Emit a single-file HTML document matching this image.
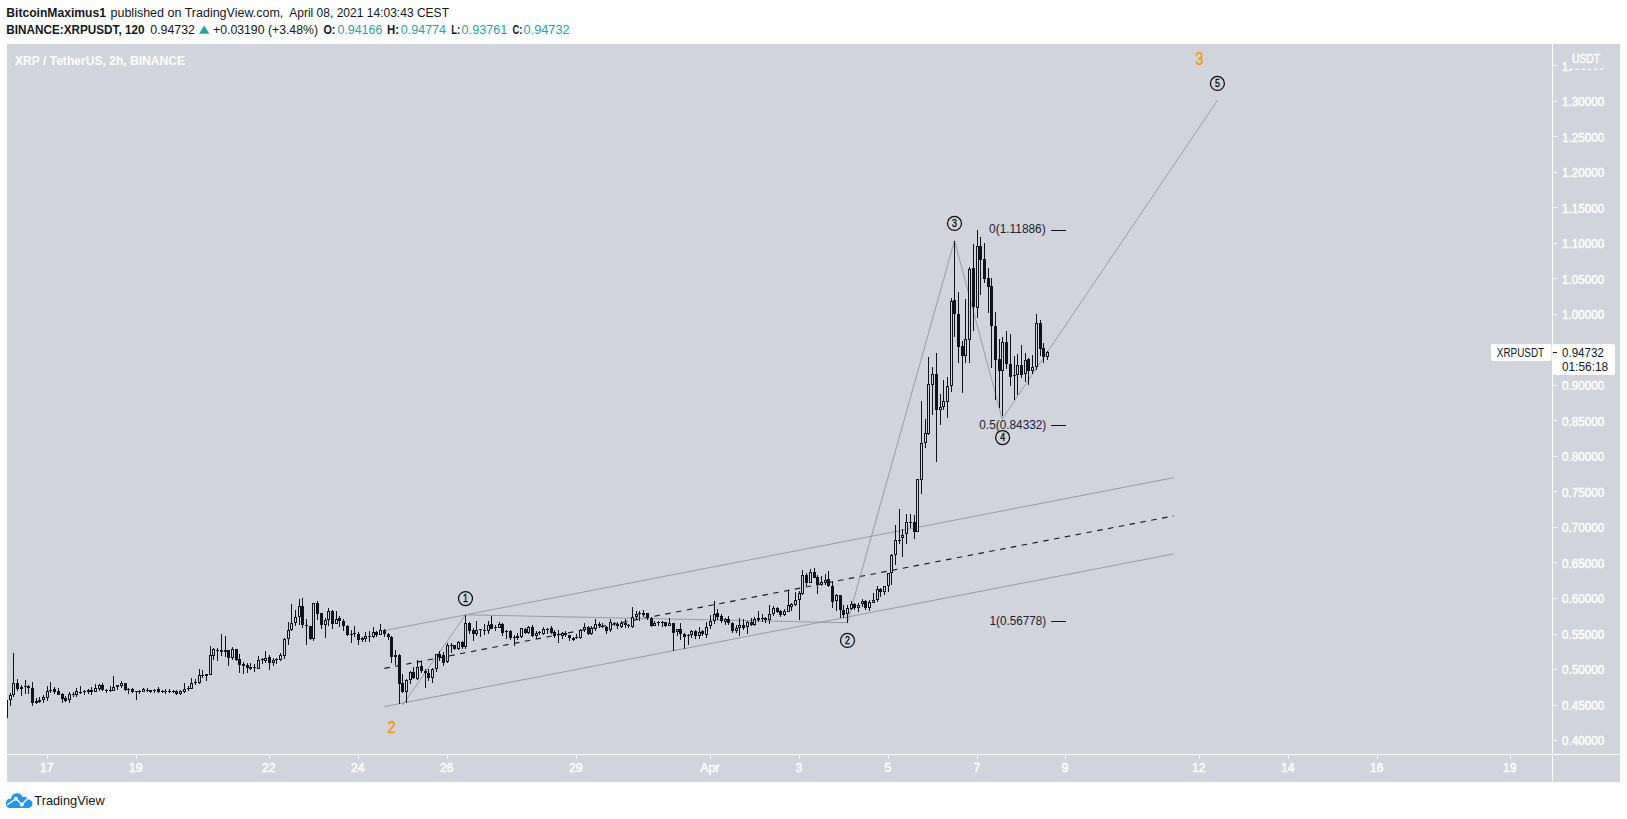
<!DOCTYPE html>
<html><head><meta charset="utf-8"><title>XRPUSDT chart</title>
<style>
html,body{margin:0;padding:0;background:#fff;}
body{width:1627px;height:819px;overflow:hidden;}
svg{display:block;font-family:"Liberation Sans", Arial, sans-serif;}
.ax{fill:#fff;font-size:12.2px;stroke:#fff;stroke-width:0.45px;}
.hd{fill:#131722;font-size:12.5px;}
.b{font-weight:bold;}
.tl{fill:#26a69a;}
.fib{fill:#1c2030;font-size:12px;}
.wv{fill:#0b0d13;font-size:10.5px;stroke:#0b0d13;stroke-width:0.35px;text-anchor:middle;}
</style></head><body>
<svg width="1627" height="819" viewBox="0 0 1627 819">
<rect x="0" y="0" width="1627" height="819" fill="#fff"/>
<rect x="7" y="44" width="1613" height="738" fill="#d1d4dc"/>

<text class="hd b" x="6.3" y="17" textLength="99.7" lengthAdjust="spacingAndGlyphs">BitcoinMaximus1</text>
<text class="hd" x="110.5" y="17" textLength="172.8" lengthAdjust="spacingAndGlyphs">published on TradingView.com,</text>
<text class="hd" x="289.2" y="17" textLength="159.8" lengthAdjust="spacingAndGlyphs">April 08, 2021 14:03:43 CEST</text>
<text class="hd b" x="6.3" y="34" textLength="138.2" lengthAdjust="spacingAndGlyphs">BINANCE:XRPUSDT, 120</text>
<text class="hd" x="150.3" y="34" textLength="44.7" lengthAdjust="spacingAndGlyphs">0.94732</text>
<path d="M199 33.7 L204.2 25.6 L209.4 33.7 Z" fill="#26a69a"/>
<text class="hd" x="213" y="34" textLength="105" lengthAdjust="spacingAndGlyphs">+0.03190 (+3.48%)</text>
<text class="hd b" x="323.4" y="34" textLength="12" lengthAdjust="spacingAndGlyphs">O:</text>
<text class="hd tl" x="337.4" y="34" textLength="45" lengthAdjust="spacingAndGlyphs">0.94166</text>
<text class="hd b" x="387" y="34" textLength="12" lengthAdjust="spacingAndGlyphs">H:</text>
<text class="hd tl" x="400.8" y="34" textLength="45.2" lengthAdjust="spacingAndGlyphs">0.94774</text>
<text class="hd b" x="451.3" y="34" textLength="9" lengthAdjust="spacingAndGlyphs">L:</text>
<text class="hd tl" x="461.6" y="34" textLength="45.8" lengthAdjust="spacingAndGlyphs">0.93761</text>
<text class="hd b" x="512.5" y="34" textLength="10" lengthAdjust="spacingAndGlyphs">C:</text>
<text class="hd tl" x="523.6" y="34" textLength="46" lengthAdjust="spacingAndGlyphs">0.94732</text>
<text x="15" y="65" fill="#fff" font-size="12.5" font-weight="bold" textLength="170" lengthAdjust="spacingAndGlyphs">XRP / TetherUS, 2h, BINANCE</text>
<rect x="1552" y="44" width="1" height="738" fill="#fff"/>
<rect x="7" y="754" width="1613" height="1" fill="#fff"/>
<rect x="1553" y="740" width="4" height="1" fill="#fff"/>
<text class="ax" x="1562" y="745.0" textLength="42.2" lengthAdjust="spacingAndGlyphs">0.40000</text>
<rect x="1553" y="705" width="4" height="1" fill="#fff"/>
<text class="ax" x="1562" y="709.5" textLength="42.2" lengthAdjust="spacingAndGlyphs">0.45000</text>
<rect x="1553" y="669" width="4" height="1" fill="#fff"/>
<text class="ax" x="1562" y="674.0" textLength="42.2" lengthAdjust="spacingAndGlyphs">0.50000</text>
<rect x="1553" y="634" width="4" height="1" fill="#fff"/>
<text class="ax" x="1562" y="638.5" textLength="42.2" lengthAdjust="spacingAndGlyphs">0.55000</text>
<rect x="1553" y="598" width="4" height="1" fill="#fff"/>
<text class="ax" x="1562" y="603.0" textLength="42.2" lengthAdjust="spacingAndGlyphs">0.60000</text>
<rect x="1553" y="562" width="4" height="1" fill="#fff"/>
<text class="ax" x="1562" y="567.5" textLength="42.2" lengthAdjust="spacingAndGlyphs">0.65000</text>
<rect x="1553" y="527" width="4" height="1" fill="#fff"/>
<text class="ax" x="1562" y="532.0" textLength="42.2" lengthAdjust="spacingAndGlyphs">0.70000</text>
<rect x="1553" y="491" width="4" height="1" fill="#fff"/>
<text class="ax" x="1562" y="496.5" textLength="42.2" lengthAdjust="spacingAndGlyphs">0.75000</text>
<rect x="1553" y="456" width="4" height="1" fill="#fff"/>
<text class="ax" x="1562" y="461.0" textLength="42.2" lengthAdjust="spacingAndGlyphs">0.80000</text>
<rect x="1553" y="420" width="4" height="1" fill="#fff"/>
<text class="ax" x="1562" y="425.5" textLength="42.2" lengthAdjust="spacingAndGlyphs">0.85000</text>
<rect x="1553" y="385" width="4" height="1" fill="#fff"/>
<text class="ax" x="1562" y="390.0" textLength="42.2" lengthAdjust="spacingAndGlyphs">0.90000</text>
<rect x="1553" y="349" width="4" height="1" fill="#fff"/>
<text class="ax" x="1562" y="354.5" textLength="42.2" lengthAdjust="spacingAndGlyphs">0.95000</text>
<rect x="1553" y="314" width="4" height="1" fill="#fff"/>
<text class="ax" x="1562" y="319.0" textLength="42.2" lengthAdjust="spacingAndGlyphs">1.00000</text>
<rect x="1553" y="278" width="4" height="1" fill="#fff"/>
<text class="ax" x="1562" y="283.5" textLength="42.2" lengthAdjust="spacingAndGlyphs">1.05000</text>
<rect x="1553" y="243" width="4" height="1" fill="#fff"/>
<text class="ax" x="1562" y="248.0" textLength="42.2" lengthAdjust="spacingAndGlyphs">1.10000</text>
<rect x="1553" y="207" width="4" height="1" fill="#fff"/>
<text class="ax" x="1562" y="212.5" textLength="42.2" lengthAdjust="spacingAndGlyphs">1.15000</text>
<rect x="1553" y="172" width="4" height="1" fill="#fff"/>
<text class="ax" x="1562" y="177.0" textLength="42.2" lengthAdjust="spacingAndGlyphs">1.20000</text>
<rect x="1553" y="136" width="4" height="1" fill="#fff"/>
<text class="ax" x="1562" y="141.5" textLength="42.2" lengthAdjust="spacingAndGlyphs">1.25000</text>
<rect x="1553" y="101" width="4" height="1" fill="#fff"/>
<text class="ax" x="1562" y="106.0" textLength="42.2" lengthAdjust="spacingAndGlyphs">1.30000</text>
<rect x="1553" y="65" width="4" height="1" fill="#fff"/>
<text class="ax" x="1562" y="70.5" textLength="9" lengthAdjust="spacingAndGlyphs">1.</text>
<rect x="1568" y="50" width="37" height="19" rx="3" fill="#d1d4dc"/>
<path d="M1569 69.4 h30.5 q4.5 0 5 -4.4" fill="none" stroke="#fff" stroke-width="1.2" stroke-dasharray="3.8 2.4"/>
<text class="ax" x="1572" y="63.1" style="font-size:12.5px" textLength="28" lengthAdjust="spacingAndGlyphs">USDT</text>
<rect x="47" y="755" width="1" height="4" fill="#fff"/>
<text class="ax" x="46.8" y="771.9" text-anchor="middle">17</text>
<rect x="136" y="755" width="1" height="4" fill="#fff"/>
<text class="ax" x="135.8" y="771.9" text-anchor="middle">19</text>
<rect x="269" y="755" width="1" height="4" fill="#fff"/>
<text class="ax" x="268.8" y="771.9" text-anchor="middle">22</text>
<rect x="358" y="755" width="1" height="4" fill="#fff"/>
<text class="ax" x="357.8" y="771.9" text-anchor="middle">24</text>
<rect x="447" y="755" width="1" height="4" fill="#fff"/>
<text class="ax" x="446.8" y="771.9" text-anchor="middle">26</text>
<rect x="576" y="755" width="1" height="4" fill="#fff"/>
<text class="ax" x="575.8" y="771.9" text-anchor="middle">29</text>
<rect x="710" y="755" width="1" height="4" fill="#fff"/>
<text class="ax" x="709.8" y="771.9" text-anchor="middle">Apr</text>
<rect x="799" y="755" width="1" height="4" fill="#fff"/>
<text class="ax" x="798.8" y="771.9" text-anchor="middle">3</text>
<rect x="888" y="755" width="1" height="4" fill="#fff"/>
<text class="ax" x="887.8" y="771.9" text-anchor="middle">5</text>
<rect x="977" y="755" width="1" height="4" fill="#fff"/>
<text class="ax" x="976.8" y="771.9" text-anchor="middle">7</text>
<rect x="1065" y="755" width="1" height="4" fill="#fff"/>
<text class="ax" x="1064.8" y="771.9" text-anchor="middle">9</text>
<rect x="1199" y="755" width="1" height="4" fill="#fff"/>
<text class="ax" x="1198.8" y="771.9" text-anchor="middle">12</text>
<rect x="1288" y="755" width="1" height="4" fill="#fff"/>
<text class="ax" x="1287.8" y="771.9" text-anchor="middle">14</text>
<rect x="1377" y="755" width="1" height="4" fill="#fff"/>
<text class="ax" x="1376.8" y="771.9" text-anchor="middle">16</text>
<rect x="1510" y="755" width="1" height="4" fill="#fff"/>
<text class="ax" x="1509.8" y="771.9" text-anchor="middle">19</text>
<polyline points="7,669 402.6,705 1199.3,79.3 1552,98.8" fill="none" stroke="#d6d5da" stroke-width="1"/>
<line x1="384.4" y1="630.6" x2="1173.7" y2="477.7" stroke="#989ba4" stroke-width="1"/>
<line x1="384.4" y1="706.6" x2="1173.7" y2="553.9" stroke="#989ba4" stroke-width="1"/>
<line x1="384.4" y1="668.4" x2="1173.7" y2="515.9" stroke="#1a1c24" stroke-width="1.15" stroke-dasharray="5.5 5.5"/>
<polyline points="402.6,705 465.5,614.8 847.2,622.7 954.5,240.6 1002.2,419 1217.6,100.2" fill="none" stroke="#989ba4" stroke-width="1"/>
<g shape-rendering="crispEdges">
<rect x="7" y="700" width="1" height="18" fill="#10131c"/>
<rect x="10" y="693" width="1" height="13" fill="#10131c"/>
<rect x="9" y="695" width="3" height="5" fill="#10131c"/>
<rect x="10" y="696" width="1" height="3" fill="#d1d4dc"/>
<rect x="13" y="653" width="1" height="44" fill="#10131c"/>
<rect x="12" y="683" width="3" height="12" fill="#10131c"/>
<rect x="13" y="684" width="1" height="10" fill="#d1d4dc"/>
<rect x="17" y="679" width="1" height="12" fill="#10131c"/>
<rect x="16" y="683" width="3" height="6" fill="#10131c"/>
<rect x="21" y="685" width="1" height="11" fill="#10131c"/>
<rect x="20" y="687" width="3" height="2" fill="#10131c"/>
<rect x="25" y="680" width="1" height="14" fill="#10131c"/>
<rect x="24" y="686" width="3" height="1" fill="#10131c"/>
<rect x="28" y="685" width="1" height="9" fill="#10131c"/>
<rect x="27" y="686" width="3" height="2" fill="#10131c"/>
<rect x="32" y="682" width="1" height="24" fill="#10131c"/>
<rect x="31" y="688" width="3" height="15" fill="#10131c"/>
<rect x="36" y="698" width="1" height="6" fill="#10131c"/>
<rect x="35" y="701" width="3" height="2" fill="#10131c"/>
<rect x="39" y="697" width="1" height="6" fill="#10131c"/>
<rect x="38" y="700" width="3" height="2" fill="#10131c"/>
<rect x="43" y="695" width="1" height="8" fill="#10131c"/>
<rect x="42" y="697" width="3" height="3" fill="#10131c"/>
<rect x="43" y="698" width="1" height="1" fill="#d1d4dc"/>
<rect x="47" y="686" width="1" height="15" fill="#10131c"/>
<rect x="46" y="691" width="3" height="7" fill="#10131c"/>
<rect x="47" y="692" width="1" height="5" fill="#d1d4dc"/>
<rect x="50" y="682" width="1" height="11" fill="#10131c"/>
<rect x="49" y="690" width="3" height="1" fill="#10131c"/>
<rect x="54" y="687" width="1" height="7" fill="#10131c"/>
<rect x="53" y="689" width="3" height="3" fill="#10131c"/>
<rect x="58" y="688" width="1" height="7" fill="#10131c"/>
<rect x="57" y="691" width="3" height="4" fill="#10131c"/>
<rect x="62" y="693" width="1" height="10" fill="#10131c"/>
<rect x="61" y="694" width="3" height="5" fill="#10131c"/>
<rect x="65" y="696" width="1" height="6" fill="#10131c"/>
<rect x="64" y="698" width="3" height="3" fill="#10131c"/>
<rect x="69" y="692" width="1" height="11" fill="#10131c"/>
<rect x="68" y="694" width="3" height="6" fill="#10131c"/>
<rect x="69" y="695" width="1" height="4" fill="#d1d4dc"/>
<rect x="73" y="692" width="1" height="5" fill="#10131c"/>
<rect x="72" y="694" width="3" height="1" fill="#10131c"/>
<rect x="76" y="688" width="1" height="9" fill="#10131c"/>
<rect x="75" y="691" width="3" height="4" fill="#10131c"/>
<rect x="76" y="692" width="1" height="2" fill="#d1d4dc"/>
<rect x="80" y="686" width="1" height="8" fill="#10131c"/>
<rect x="79" y="692" width="3" height="1" fill="#10131c"/>
<rect x="84" y="690" width="1" height="5" fill="#10131c"/>
<rect x="83" y="691" width="3" height="1" fill="#10131c"/>
<rect x="88" y="689" width="1" height="5" fill="#10131c"/>
<rect x="87" y="690" width="3" height="2" fill="#10131c"/>
<rect x="91" y="687" width="1" height="8" fill="#10131c"/>
<rect x="90" y="690" width="3" height="2" fill="#10131c"/>
<rect x="95" y="684" width="1" height="8" fill="#10131c"/>
<rect x="94" y="688" width="3" height="4" fill="#10131c"/>
<rect x="95" y="689" width="1" height="2" fill="#d1d4dc"/>
<rect x="99" y="684" width="1" height="7" fill="#10131c"/>
<rect x="98" y="685" width="3" height="4" fill="#10131c"/>
<rect x="99" y="686" width="1" height="2" fill="#d1d4dc"/>
<rect x="102" y="683" width="1" height="8" fill="#10131c"/>
<rect x="101" y="685" width="3" height="5" fill="#10131c"/>
<rect x="106" y="689" width="1" height="4" fill="#10131c"/>
<rect x="105" y="690" width="3" height="1" fill="#10131c"/>
<rect x="110" y="686" width="1" height="6" fill="#10131c"/>
<rect x="109" y="690" width="3" height="1" fill="#10131c"/>
<rect x="113" y="676" width="1" height="15" fill="#10131c"/>
<rect x="112" y="687" width="3" height="4" fill="#10131c"/>
<rect x="113" y="688" width="1" height="2" fill="#d1d4dc"/>
<rect x="117" y="685" width="1" height="5" fill="#10131c"/>
<rect x="116" y="685" width="3" height="2" fill="#10131c"/>
<rect x="121" y="681" width="1" height="7" fill="#10131c"/>
<rect x="120" y="683" width="3" height="3" fill="#10131c"/>
<rect x="121" y="684" width="1" height="1" fill="#d1d4dc"/>
<rect x="125" y="683" width="1" height="8" fill="#10131c"/>
<rect x="124" y="683" width="3" height="7" fill="#10131c"/>
<rect x="128" y="688" width="1" height="6" fill="#10131c"/>
<rect x="127" y="689" width="3" height="1" fill="#10131c"/>
<rect x="132" y="688" width="1" height="5" fill="#10131c"/>
<rect x="131" y="689" width="3" height="3" fill="#10131c"/>
<rect x="136" y="691" width="1" height="9" fill="#10131c"/>
<rect x="135" y="691" width="3" height="1" fill="#10131c"/>
<rect x="139" y="690" width="1" height="4" fill="#10131c"/>
<rect x="138" y="691" width="3" height="1" fill="#10131c"/>
<rect x="143" y="688" width="1" height="4" fill="#10131c"/>
<rect x="142" y="689" width="3" height="3" fill="#10131c"/>
<rect x="143" y="690" width="1" height="1" fill="#d1d4dc"/>
<rect x="147" y="688" width="1" height="4" fill="#10131c"/>
<rect x="146" y="690" width="3" height="1" fill="#10131c"/>
<rect x="150" y="690" width="1" height="3" fill="#10131c"/>
<rect x="149" y="690" width="3" height="2" fill="#10131c"/>
<rect x="154" y="689" width="1" height="4" fill="#10131c"/>
<rect x="153" y="690" width="3" height="1" fill="#10131c"/>
<rect x="158" y="687" width="1" height="6" fill="#10131c"/>
<rect x="157" y="689" width="3" height="3" fill="#10131c"/>
<rect x="162" y="690" width="1" height="3" fill="#10131c"/>
<rect x="161" y="691" width="3" height="1" fill="#10131c"/>
<rect x="165" y="689" width="1" height="5" fill="#10131c"/>
<rect x="164" y="691" width="3" height="1" fill="#10131c"/>
<rect x="169" y="689" width="1" height="4" fill="#10131c"/>
<rect x="168" y="691" width="3" height="1" fill="#10131c"/>
<rect x="173" y="690" width="1" height="3" fill="#10131c"/>
<rect x="172" y="691" width="3" height="1" fill="#10131c"/>
<rect x="176" y="690" width="1" height="5" fill="#10131c"/>
<rect x="175" y="691" width="3" height="3" fill="#10131c"/>
<rect x="180" y="690" width="1" height="5" fill="#10131c"/>
<rect x="179" y="691" width="3" height="3" fill="#10131c"/>
<rect x="180" y="692" width="1" height="1" fill="#d1d4dc"/>
<rect x="184" y="683" width="1" height="10" fill="#10131c"/>
<rect x="183" y="689" width="3" height="3" fill="#10131c"/>
<rect x="184" y="690" width="1" height="1" fill="#d1d4dc"/>
<rect x="188" y="686" width="1" height="5" fill="#10131c"/>
<rect x="187" y="688" width="3" height="1" fill="#10131c"/>
<rect x="191" y="678" width="1" height="11" fill="#10131c"/>
<rect x="190" y="683" width="3" height="6" fill="#10131c"/>
<rect x="191" y="684" width="1" height="4" fill="#d1d4dc"/>
<rect x="195" y="679" width="1" height="6" fill="#10131c"/>
<rect x="194" y="682" width="3" height="1" fill="#10131c"/>
<rect x="199" y="669" width="1" height="15" fill="#10131c"/>
<rect x="198" y="675" width="3" height="8" fill="#10131c"/>
<rect x="199" y="676" width="1" height="6" fill="#d1d4dc"/>
<rect x="202" y="670" width="1" height="8" fill="#10131c"/>
<rect x="201" y="675" width="3" height="1" fill="#10131c"/>
<rect x="206" y="674" width="1" height="7" fill="#10131c"/>
<rect x="205" y="674" width="3" height="2" fill="#10131c"/>
<rect x="210" y="646" width="1" height="29" fill="#10131c"/>
<rect x="209" y="655" width="3" height="20" fill="#10131c"/>
<rect x="210" y="656" width="1" height="18" fill="#d1d4dc"/>
<rect x="213" y="648" width="1" height="12" fill="#10131c"/>
<rect x="212" y="649" width="3" height="7" fill="#10131c"/>
<rect x="213" y="650" width="1" height="5" fill="#d1d4dc"/>
<rect x="217" y="648" width="1" height="13" fill="#10131c"/>
<rect x="216" y="650" width="3" height="1" fill="#10131c"/>
<rect x="221" y="634" width="1" height="22" fill="#10131c"/>
<rect x="220" y="650" width="3" height="2" fill="#10131c"/>
<rect x="225" y="636" width="1" height="21" fill="#10131c"/>
<rect x="224" y="650" width="3" height="2" fill="#10131c"/>
<rect x="228" y="650" width="1" height="16" fill="#10131c"/>
<rect x="227" y="650" width="3" height="8" fill="#10131c"/>
<rect x="232" y="647" width="1" height="13" fill="#10131c"/>
<rect x="231" y="649" width="3" height="9" fill="#10131c"/>
<rect x="232" y="650" width="1" height="7" fill="#d1d4dc"/>
<rect x="236" y="649" width="1" height="12" fill="#10131c"/>
<rect x="235" y="649" width="3" height="11" fill="#10131c"/>
<rect x="239" y="654" width="1" height="19" fill="#10131c"/>
<rect x="238" y="659" width="3" height="6" fill="#10131c"/>
<rect x="243" y="662" width="1" height="12" fill="#10131c"/>
<rect x="242" y="664" width="3" height="2" fill="#10131c"/>
<rect x="247" y="663" width="1" height="10" fill="#10131c"/>
<rect x="246" y="665" width="3" height="3" fill="#10131c"/>
<rect x="250" y="663" width="1" height="7" fill="#10131c"/>
<rect x="249" y="667" width="3" height="2" fill="#10131c"/>
<rect x="254" y="664" width="1" height="8" fill="#10131c"/>
<rect x="253" y="667" width="3" height="1" fill="#10131c"/>
<rect x="258" y="656" width="1" height="13" fill="#10131c"/>
<rect x="257" y="660" width="3" height="9" fill="#10131c"/>
<rect x="258" y="661" width="1" height="7" fill="#d1d4dc"/>
<rect x="262" y="658" width="1" height="6" fill="#10131c"/>
<rect x="261" y="659" width="3" height="1" fill="#10131c"/>
<rect x="265" y="651" width="1" height="12" fill="#10131c"/>
<rect x="264" y="658" width="3" height="3" fill="#10131c"/>
<rect x="265" y="659" width="1" height="1" fill="#d1d4dc"/>
<rect x="269" y="655" width="1" height="15" fill="#10131c"/>
<rect x="268" y="657" width="3" height="6" fill="#10131c"/>
<rect x="273" y="658" width="1" height="8" fill="#10131c"/>
<rect x="272" y="660" width="3" height="3" fill="#10131c"/>
<rect x="273" y="661" width="1" height="1" fill="#d1d4dc"/>
<rect x="276" y="658" width="1" height="6" fill="#10131c"/>
<rect x="275" y="659" width="3" height="1" fill="#10131c"/>
<rect x="280" y="653" width="1" height="8" fill="#10131c"/>
<rect x="279" y="655" width="3" height="5" fill="#10131c"/>
<rect x="280" y="656" width="1" height="3" fill="#d1d4dc"/>
<rect x="284" y="638" width="1" height="21" fill="#10131c"/>
<rect x="283" y="639" width="3" height="17" fill="#10131c"/>
<rect x="284" y="640" width="1" height="15" fill="#d1d4dc"/>
<rect x="288" y="622" width="1" height="23" fill="#10131c"/>
<rect x="287" y="630" width="3" height="9" fill="#10131c"/>
<rect x="288" y="631" width="1" height="7" fill="#d1d4dc"/>
<rect x="291" y="604" width="1" height="27" fill="#10131c"/>
<rect x="290" y="623" width="3" height="7" fill="#10131c"/>
<rect x="291" y="624" width="1" height="5" fill="#d1d4dc"/>
<rect x="295" y="610" width="1" height="16" fill="#10131c"/>
<rect x="294" y="617" width="3" height="6" fill="#10131c"/>
<rect x="295" y="618" width="1" height="4" fill="#d1d4dc"/>
<rect x="299" y="599" width="1" height="26" fill="#10131c"/>
<rect x="298" y="606" width="3" height="11" fill="#10131c"/>
<rect x="299" y="607" width="1" height="9" fill="#d1d4dc"/>
<rect x="302" y="598" width="1" height="30" fill="#10131c"/>
<rect x="301" y="606" width="3" height="19" fill="#10131c"/>
<rect x="306" y="619" width="1" height="26" fill="#10131c"/>
<rect x="305" y="625" width="3" height="1" fill="#10131c"/>
<rect x="310" y="626" width="1" height="14" fill="#10131c"/>
<rect x="309" y="626" width="3" height="13" fill="#10131c"/>
<rect x="313" y="603" width="1" height="38" fill="#10131c"/>
<rect x="312" y="603" width="3" height="36" fill="#10131c"/>
<rect x="313" y="604" width="1" height="34" fill="#d1d4dc"/>
<rect x="317" y="601" width="1" height="19" fill="#10131c"/>
<rect x="316" y="603" width="3" height="11" fill="#10131c"/>
<rect x="321" y="613" width="1" height="16" fill="#10131c"/>
<rect x="320" y="613" width="3" height="12" fill="#10131c"/>
<rect x="325" y="618" width="1" height="20" fill="#10131c"/>
<rect x="324" y="620" width="3" height="5" fill="#10131c"/>
<rect x="325" y="621" width="1" height="3" fill="#d1d4dc"/>
<rect x="328" y="608" width="1" height="18" fill="#10131c"/>
<rect x="327" y="611" width="3" height="9" fill="#10131c"/>
<rect x="328" y="612" width="1" height="7" fill="#d1d4dc"/>
<rect x="332" y="610" width="1" height="19" fill="#10131c"/>
<rect x="331" y="611" width="3" height="13" fill="#10131c"/>
<rect x="336" y="611" width="1" height="13" fill="#10131c"/>
<rect x="335" y="619" width="3" height="5" fill="#10131c"/>
<rect x="336" y="620" width="1" height="3" fill="#d1d4dc"/>
<rect x="339" y="616" width="1" height="11" fill="#10131c"/>
<rect x="338" y="618" width="3" height="3" fill="#10131c"/>
<rect x="343" y="619" width="1" height="12" fill="#10131c"/>
<rect x="342" y="621" width="3" height="5" fill="#10131c"/>
<rect x="347" y="625" width="1" height="11" fill="#10131c"/>
<rect x="346" y="626" width="3" height="9" fill="#10131c"/>
<rect x="351" y="630" width="1" height="13" fill="#10131c"/>
<rect x="350" y="634" width="3" height="1" fill="#10131c"/>
<rect x="354" y="626" width="1" height="11" fill="#10131c"/>
<rect x="353" y="633" width="3" height="1" fill="#10131c"/>
<rect x="358" y="632" width="1" height="13" fill="#10131c"/>
<rect x="357" y="634" width="3" height="6" fill="#10131c"/>
<rect x="362" y="637" width="1" height="5" fill="#10131c"/>
<rect x="361" y="638" width="3" height="2" fill="#10131c"/>
<rect x="365" y="632" width="1" height="10" fill="#10131c"/>
<rect x="364" y="636" width="3" height="3" fill="#10131c"/>
<rect x="365" y="637" width="1" height="1" fill="#d1d4dc"/>
<rect x="369" y="631" width="1" height="11" fill="#10131c"/>
<rect x="368" y="636" width="3" height="1" fill="#10131c"/>
<rect x="373" y="627" width="1" height="11" fill="#10131c"/>
<rect x="372" y="632" width="3" height="5" fill="#10131c"/>
<rect x="373" y="633" width="1" height="3" fill="#d1d4dc"/>
<rect x="376" y="631" width="1" height="6" fill="#10131c"/>
<rect x="375" y="632" width="3" height="3" fill="#10131c"/>
<rect x="380" y="624" width="1" height="11" fill="#10131c"/>
<rect x="379" y="630" width="3" height="5" fill="#10131c"/>
<rect x="380" y="631" width="1" height="3" fill="#d1d4dc"/>
<rect x="384" y="629" width="1" height="8" fill="#10131c"/>
<rect x="383" y="630" width="3" height="4" fill="#10131c"/>
<rect x="388" y="633" width="1" height="7" fill="#10131c"/>
<rect x="387" y="634" width="3" height="3" fill="#10131c"/>
<rect x="391" y="636" width="1" height="27" fill="#10131c"/>
<rect x="390" y="637" width="3" height="20" fill="#10131c"/>
<rect x="395" y="650" width="1" height="15" fill="#10131c"/>
<rect x="394" y="655" width="3" height="2" fill="#10131c"/>
<rect x="399" y="654" width="1" height="50" fill="#10131c"/>
<rect x="398" y="655" width="3" height="29" fill="#10131c"/>
<rect x="402" y="674" width="1" height="19" fill="#10131c"/>
<rect x="401" y="683" width="3" height="9" fill="#10131c"/>
<rect x="406" y="679" width="1" height="24" fill="#10131c"/>
<rect x="405" y="680" width="3" height="12" fill="#10131c"/>
<rect x="406" y="681" width="1" height="10" fill="#d1d4dc"/>
<rect x="410" y="671" width="1" height="13" fill="#10131c"/>
<rect x="409" y="672" width="3" height="8" fill="#10131c"/>
<rect x="410" y="673" width="1" height="6" fill="#d1d4dc"/>
<rect x="413" y="667" width="1" height="12" fill="#10131c"/>
<rect x="412" y="672" width="3" height="6" fill="#10131c"/>
<rect x="417" y="660" width="1" height="20" fill="#10131c"/>
<rect x="416" y="667" width="3" height="12" fill="#10131c"/>
<rect x="417" y="668" width="1" height="10" fill="#d1d4dc"/>
<rect x="421" y="661" width="1" height="12" fill="#10131c"/>
<rect x="420" y="666" width="3" height="5" fill="#10131c"/>
<rect x="425" y="669" width="1" height="19" fill="#10131c"/>
<rect x="424" y="671" width="3" height="2" fill="#10131c"/>
<rect x="428" y="669" width="1" height="12" fill="#10131c"/>
<rect x="427" y="673" width="3" height="5" fill="#10131c"/>
<rect x="432" y="668" width="1" height="15" fill="#10131c"/>
<rect x="431" y="669" width="3" height="9" fill="#10131c"/>
<rect x="432" y="670" width="1" height="7" fill="#d1d4dc"/>
<rect x="436" y="654" width="1" height="18" fill="#10131c"/>
<rect x="435" y="654" width="3" height="15" fill="#10131c"/>
<rect x="436" y="655" width="1" height="13" fill="#d1d4dc"/>
<rect x="439" y="651" width="1" height="10" fill="#10131c"/>
<rect x="438" y="654" width="3" height="3" fill="#10131c"/>
<rect x="443" y="652" width="1" height="14" fill="#10131c"/>
<rect x="442" y="655" width="3" height="8" fill="#10131c"/>
<rect x="447" y="643" width="1" height="20" fill="#10131c"/>
<rect x="446" y="645" width="3" height="17" fill="#10131c"/>
<rect x="447" y="646" width="1" height="15" fill="#d1d4dc"/>
<rect x="451" y="643" width="1" height="10" fill="#10131c"/>
<rect x="450" y="645" width="3" height="1" fill="#10131c"/>
<rect x="454" y="645" width="1" height="5" fill="#10131c"/>
<rect x="453" y="645" width="3" height="4" fill="#10131c"/>
<rect x="458" y="641" width="1" height="9" fill="#10131c"/>
<rect x="457" y="642" width="3" height="7" fill="#10131c"/>
<rect x="458" y="643" width="1" height="5" fill="#d1d4dc"/>
<rect x="462" y="641" width="1" height="8" fill="#10131c"/>
<rect x="461" y="642" width="3" height="5" fill="#10131c"/>
<rect x="465" y="615" width="1" height="34" fill="#10131c"/>
<rect x="464" y="623" width="3" height="24" fill="#10131c"/>
<rect x="465" y="624" width="1" height="22" fill="#d1d4dc"/>
<rect x="469" y="622" width="1" height="12" fill="#10131c"/>
<rect x="468" y="623" width="3" height="8" fill="#10131c"/>
<rect x="473" y="628" width="1" height="13" fill="#10131c"/>
<rect x="472" y="630" width="3" height="4" fill="#10131c"/>
<rect x="476" y="621" width="1" height="15" fill="#10131c"/>
<rect x="475" y="630" width="3" height="4" fill="#10131c"/>
<rect x="476" y="631" width="1" height="2" fill="#d1d4dc"/>
<rect x="480" y="629" width="1" height="8" fill="#10131c"/>
<rect x="479" y="629" width="3" height="1" fill="#10131c"/>
<rect x="484" y="624" width="1" height="11" fill="#10131c"/>
<rect x="483" y="630" width="3" height="1" fill="#10131c"/>
<rect x="488" y="621" width="1" height="13" fill="#10131c"/>
<rect x="487" y="625" width="3" height="6" fill="#10131c"/>
<rect x="488" y="626" width="1" height="4" fill="#d1d4dc"/>
<rect x="491" y="616" width="1" height="13" fill="#10131c"/>
<rect x="490" y="624" width="3" height="5" fill="#10131c"/>
<rect x="495" y="625" width="1" height="6" fill="#10131c"/>
<rect x="494" y="627" width="3" height="1" fill="#10131c"/>
<rect x="499" y="622" width="1" height="6" fill="#10131c"/>
<rect x="498" y="624" width="3" height="4" fill="#10131c"/>
<rect x="499" y="625" width="1" height="2" fill="#d1d4dc"/>
<rect x="502" y="623" width="1" height="13" fill="#10131c"/>
<rect x="501" y="624" width="3" height="9" fill="#10131c"/>
<rect x="506" y="630" width="1" height="9" fill="#10131c"/>
<rect x="505" y="631" width="3" height="1" fill="#10131c"/>
<rect x="510" y="630" width="1" height="10" fill="#10131c"/>
<rect x="509" y="631" width="3" height="7" fill="#10131c"/>
<rect x="514" y="635" width="1" height="11" fill="#10131c"/>
<rect x="513" y="637" width="3" height="1" fill="#10131c"/>
<rect x="517" y="633" width="1" height="7" fill="#10131c"/>
<rect x="516" y="636" width="3" height="2" fill="#10131c"/>
<rect x="521" y="628" width="1" height="10" fill="#10131c"/>
<rect x="520" y="628" width="3" height="9" fill="#10131c"/>
<rect x="521" y="629" width="1" height="7" fill="#d1d4dc"/>
<rect x="525" y="628" width="1" height="6" fill="#10131c"/>
<rect x="524" y="629" width="3" height="4" fill="#10131c"/>
<rect x="528" y="626" width="1" height="8" fill="#10131c"/>
<rect x="527" y="627" width="3" height="6" fill="#10131c"/>
<rect x="528" y="628" width="1" height="4" fill="#d1d4dc"/>
<rect x="532" y="625" width="1" height="12" fill="#10131c"/>
<rect x="531" y="627" width="3" height="9" fill="#10131c"/>
<rect x="536" y="631" width="1" height="8" fill="#10131c"/>
<rect x="535" y="633" width="3" height="3" fill="#10131c"/>
<rect x="536" y="634" width="1" height="1" fill="#d1d4dc"/>
<rect x="539" y="631" width="1" height="4" fill="#10131c"/>
<rect x="538" y="632" width="3" height="1" fill="#10131c"/>
<rect x="543" y="627" width="1" height="8" fill="#10131c"/>
<rect x="542" y="629" width="3" height="5" fill="#10131c"/>
<rect x="543" y="630" width="1" height="3" fill="#d1d4dc"/>
<rect x="547" y="628" width="1" height="6" fill="#10131c"/>
<rect x="546" y="629" width="3" height="1" fill="#10131c"/>
<rect x="551" y="626" width="1" height="8" fill="#10131c"/>
<rect x="550" y="628" width="3" height="5" fill="#10131c"/>
<rect x="554" y="630" width="1" height="8" fill="#10131c"/>
<rect x="553" y="632" width="3" height="4" fill="#10131c"/>
<rect x="558" y="630" width="1" height="13" fill="#10131c"/>
<rect x="557" y="634" width="3" height="1" fill="#10131c"/>
<rect x="562" y="632" width="1" height="7" fill="#10131c"/>
<rect x="561" y="633" width="3" height="3" fill="#10131c"/>
<rect x="562" y="634" width="1" height="1" fill="#d1d4dc"/>
<rect x="565" y="631" width="1" height="6" fill="#10131c"/>
<rect x="564" y="633" width="3" height="2" fill="#10131c"/>
<rect x="569" y="635" width="1" height="6" fill="#10131c"/>
<rect x="568" y="635" width="3" height="3" fill="#10131c"/>
<rect x="573" y="637" width="1" height="4" fill="#10131c"/>
<rect x="572" y="638" width="3" height="2" fill="#10131c"/>
<rect x="576" y="634" width="1" height="5" fill="#10131c"/>
<rect x="575" y="637" width="3" height="1" fill="#10131c"/>
<rect x="580" y="629" width="1" height="10" fill="#10131c"/>
<rect x="579" y="630" width="3" height="8" fill="#10131c"/>
<rect x="580" y="631" width="1" height="6" fill="#d1d4dc"/>
<rect x="584" y="623" width="1" height="9" fill="#10131c"/>
<rect x="583" y="627" width="3" height="3" fill="#10131c"/>
<rect x="584" y="628" width="1" height="1" fill="#d1d4dc"/>
<rect x="588" y="626" width="1" height="9" fill="#10131c"/>
<rect x="587" y="627" width="3" height="7" fill="#10131c"/>
<rect x="591" y="626" width="1" height="9" fill="#10131c"/>
<rect x="590" y="628" width="3" height="6" fill="#10131c"/>
<rect x="591" y="629" width="1" height="4" fill="#d1d4dc"/>
<rect x="595" y="619" width="1" height="12" fill="#10131c"/>
<rect x="594" y="624" width="3" height="5" fill="#10131c"/>
<rect x="595" y="625" width="1" height="3" fill="#d1d4dc"/>
<rect x="599" y="622" width="1" height="6" fill="#10131c"/>
<rect x="598" y="624" width="3" height="2" fill="#10131c"/>
<rect x="602" y="623" width="1" height="5" fill="#10131c"/>
<rect x="601" y="626" width="3" height="1" fill="#10131c"/>
<rect x="606" y="626" width="1" height="8" fill="#10131c"/>
<rect x="605" y="627" width="3" height="4" fill="#10131c"/>
<rect x="610" y="619" width="1" height="13" fill="#10131c"/>
<rect x="609" y="622" width="3" height="8" fill="#10131c"/>
<rect x="610" y="623" width="1" height="6" fill="#d1d4dc"/>
<rect x="614" y="622" width="1" height="4" fill="#10131c"/>
<rect x="613" y="623" width="3" height="1" fill="#10131c"/>
<rect x="617" y="622" width="1" height="7" fill="#10131c"/>
<rect x="616" y="624" width="3" height="2" fill="#10131c"/>
<rect x="621" y="621" width="1" height="7" fill="#10131c"/>
<rect x="620" y="623" width="3" height="4" fill="#10131c"/>
<rect x="621" y="624" width="1" height="2" fill="#d1d4dc"/>
<rect x="625" y="619" width="1" height="9" fill="#10131c"/>
<rect x="624" y="623" width="3" height="2" fill="#10131c"/>
<rect x="628" y="624" width="1" height="4" fill="#10131c"/>
<rect x="627" y="625" width="3" height="1" fill="#10131c"/>
<rect x="632" y="607" width="1" height="21" fill="#10131c"/>
<rect x="631" y="617" width="3" height="10" fill="#10131c"/>
<rect x="632" y="618" width="1" height="8" fill="#d1d4dc"/>
<rect x="636" y="611" width="1" height="9" fill="#10131c"/>
<rect x="635" y="614" width="3" height="3" fill="#10131c"/>
<rect x="636" y="615" width="1" height="1" fill="#d1d4dc"/>
<rect x="639" y="611" width="1" height="10" fill="#10131c"/>
<rect x="638" y="613" width="3" height="1" fill="#10131c"/>
<rect x="643" y="610" width="1" height="7" fill="#10131c"/>
<rect x="642" y="613" width="3" height="2" fill="#10131c"/>
<rect x="647" y="613" width="1" height="7" fill="#10131c"/>
<rect x="646" y="613" width="3" height="5" fill="#10131c"/>
<rect x="651" y="617" width="1" height="10" fill="#10131c"/>
<rect x="650" y="618" width="3" height="8" fill="#10131c"/>
<rect x="654" y="621" width="1" height="5" fill="#10131c"/>
<rect x="653" y="623" width="3" height="3" fill="#10131c"/>
<rect x="654" y="624" width="1" height="1" fill="#d1d4dc"/>
<rect x="658" y="621" width="1" height="5" fill="#10131c"/>
<rect x="657" y="622" width="3" height="1" fill="#10131c"/>
<rect x="662" y="621" width="1" height="6" fill="#10131c"/>
<rect x="661" y="622" width="3" height="1" fill="#10131c"/>
<rect x="665" y="622" width="1" height="5" fill="#10131c"/>
<rect x="664" y="622" width="3" height="4" fill="#10131c"/>
<rect x="669" y="618" width="1" height="8" fill="#10131c"/>
<rect x="668" y="623" width="3" height="3" fill="#10131c"/>
<rect x="669" y="624" width="1" height="1" fill="#d1d4dc"/>
<rect x="673" y="623" width="1" height="28" fill="#10131c"/>
<rect x="672" y="623" width="3" height="10" fill="#10131c"/>
<rect x="677" y="629" width="1" height="7" fill="#10131c"/>
<rect x="676" y="629" width="3" height="3" fill="#10131c"/>
<rect x="677" y="630" width="1" height="1" fill="#d1d4dc"/>
<rect x="680" y="623" width="1" height="17" fill="#10131c"/>
<rect x="679" y="629" width="3" height="5" fill="#10131c"/>
<rect x="684" y="633" width="1" height="16" fill="#10131c"/>
<rect x="683" y="634" width="3" height="3" fill="#10131c"/>
<rect x="688" y="634" width="1" height="11" fill="#10131c"/>
<rect x="687" y="635" width="3" height="1" fill="#10131c"/>
<rect x="691" y="630" width="1" height="8" fill="#10131c"/>
<rect x="690" y="631" width="3" height="4" fill="#10131c"/>
<rect x="691" y="632" width="1" height="2" fill="#d1d4dc"/>
<rect x="695" y="630" width="1" height="9" fill="#10131c"/>
<rect x="694" y="631" width="3" height="5" fill="#10131c"/>
<rect x="699" y="627" width="1" height="12" fill="#10131c"/>
<rect x="698" y="632" width="3" height="4" fill="#10131c"/>
<rect x="699" y="633" width="1" height="2" fill="#d1d4dc"/>
<rect x="702" y="630" width="1" height="6" fill="#10131c"/>
<rect x="701" y="631" width="3" height="3" fill="#10131c"/>
<rect x="706" y="622" width="1" height="16" fill="#10131c"/>
<rect x="705" y="627" width="3" height="8" fill="#10131c"/>
<rect x="706" y="628" width="1" height="6" fill="#d1d4dc"/>
<rect x="710" y="615" width="1" height="14" fill="#10131c"/>
<rect x="709" y="621" width="3" height="5" fill="#10131c"/>
<rect x="710" y="622" width="1" height="3" fill="#d1d4dc"/>
<rect x="714" y="601" width="1" height="23" fill="#10131c"/>
<rect x="713" y="614" width="3" height="7" fill="#10131c"/>
<rect x="714" y="615" width="1" height="5" fill="#d1d4dc"/>
<rect x="717" y="609" width="1" height="11" fill="#10131c"/>
<rect x="716" y="613" width="3" height="4" fill="#10131c"/>
<rect x="721" y="614" width="1" height="9" fill="#10131c"/>
<rect x="720" y="616" width="3" height="5" fill="#10131c"/>
<rect x="725" y="618" width="1" height="7" fill="#10131c"/>
<rect x="724" y="619" width="3" height="3" fill="#10131c"/>
<rect x="725" y="620" width="1" height="1" fill="#d1d4dc"/>
<rect x="728" y="616" width="1" height="9" fill="#10131c"/>
<rect x="727" y="619" width="3" height="4" fill="#10131c"/>
<rect x="732" y="622" width="1" height="11" fill="#10131c"/>
<rect x="731" y="623" width="3" height="8" fill="#10131c"/>
<rect x="736" y="625" width="1" height="8" fill="#10131c"/>
<rect x="735" y="628" width="3" height="3" fill="#10131c"/>
<rect x="736" y="629" width="1" height="1" fill="#d1d4dc"/>
<rect x="739" y="618" width="1" height="18" fill="#10131c"/>
<rect x="738" y="625" width="3" height="3" fill="#10131c"/>
<rect x="739" y="626" width="1" height="1" fill="#d1d4dc"/>
<rect x="743" y="619" width="1" height="11" fill="#10131c"/>
<rect x="742" y="625" width="3" height="3" fill="#10131c"/>
<rect x="747" y="621" width="1" height="13" fill="#10131c"/>
<rect x="746" y="622" width="3" height="5" fill="#10131c"/>
<rect x="747" y="623" width="1" height="3" fill="#d1d4dc"/>
<rect x="751" y="618" width="1" height="8" fill="#10131c"/>
<rect x="750" y="622" width="3" height="3" fill="#10131c"/>
<rect x="754" y="617" width="1" height="9" fill="#10131c"/>
<rect x="753" y="619" width="3" height="6" fill="#10131c"/>
<rect x="754" y="620" width="1" height="4" fill="#d1d4dc"/>
<rect x="758" y="611" width="1" height="11" fill="#10131c"/>
<rect x="757" y="618" width="3" height="2" fill="#10131c"/>
<rect x="762" y="614" width="1" height="8" fill="#10131c"/>
<rect x="761" y="618" width="3" height="1" fill="#10131c"/>
<rect x="765" y="617" width="1" height="6" fill="#10131c"/>
<rect x="764" y="618" width="3" height="2" fill="#10131c"/>
<rect x="769" y="605" width="1" height="19" fill="#10131c"/>
<rect x="768" y="614" width="3" height="6" fill="#10131c"/>
<rect x="769" y="615" width="1" height="4" fill="#d1d4dc"/>
<rect x="773" y="606" width="1" height="10" fill="#10131c"/>
<rect x="772" y="608" width="3" height="6" fill="#10131c"/>
<rect x="773" y="609" width="1" height="4" fill="#d1d4dc"/>
<rect x="777" y="607" width="1" height="6" fill="#10131c"/>
<rect x="776" y="608" width="3" height="4" fill="#10131c"/>
<rect x="780" y="610" width="1" height="7" fill="#10131c"/>
<rect x="779" y="611" width="3" height="4" fill="#10131c"/>
<rect x="784" y="609" width="1" height="7" fill="#10131c"/>
<rect x="783" y="611" width="3" height="4" fill="#10131c"/>
<rect x="784" y="612" width="1" height="2" fill="#d1d4dc"/>
<rect x="788" y="590" width="1" height="22" fill="#10131c"/>
<rect x="787" y="605" width="3" height="7" fill="#10131c"/>
<rect x="788" y="606" width="1" height="5" fill="#d1d4dc"/>
<rect x="791" y="603" width="1" height="8" fill="#10131c"/>
<rect x="790" y="604" width="3" height="3" fill="#10131c"/>
<rect x="791" y="605" width="1" height="1" fill="#d1d4dc"/>
<rect x="795" y="592" width="1" height="14" fill="#10131c"/>
<rect x="794" y="600" width="3" height="5" fill="#10131c"/>
<rect x="795" y="601" width="1" height="3" fill="#d1d4dc"/>
<rect x="799" y="591" width="1" height="29" fill="#10131c"/>
<rect x="798" y="593" width="3" height="7" fill="#10131c"/>
<rect x="799" y="594" width="1" height="5" fill="#d1d4dc"/>
<rect x="802" y="570" width="1" height="25" fill="#10131c"/>
<rect x="801" y="575" width="3" height="19" fill="#10131c"/>
<rect x="802" y="576" width="1" height="17" fill="#d1d4dc"/>
<rect x="806" y="573" width="1" height="13" fill="#10131c"/>
<rect x="805" y="575" width="3" height="8" fill="#10131c"/>
<rect x="810" y="569" width="1" height="14" fill="#10131c"/>
<rect x="809" y="572" width="3" height="11" fill="#10131c"/>
<rect x="810" y="573" width="1" height="9" fill="#d1d4dc"/>
<rect x="814" y="568" width="1" height="10" fill="#10131c"/>
<rect x="813" y="572" width="3" height="6" fill="#10131c"/>
<rect x="817" y="575" width="1" height="19" fill="#10131c"/>
<rect x="816" y="577" width="3" height="8" fill="#10131c"/>
<rect x="821" y="576" width="1" height="10" fill="#10131c"/>
<rect x="820" y="582" width="3" height="3" fill="#10131c"/>
<rect x="821" y="583" width="1" height="1" fill="#d1d4dc"/>
<rect x="825" y="574" width="1" height="11" fill="#10131c"/>
<rect x="824" y="580" width="3" height="3" fill="#10131c"/>
<rect x="825" y="581" width="1" height="1" fill="#d1d4dc"/>
<rect x="828" y="571" width="1" height="16" fill="#10131c"/>
<rect x="827" y="579" width="3" height="7" fill="#10131c"/>
<rect x="832" y="581" width="1" height="27" fill="#10131c"/>
<rect x="831" y="586" width="3" height="16" fill="#10131c"/>
<rect x="836" y="594" width="1" height="17" fill="#10131c"/>
<rect x="835" y="595" width="3" height="6" fill="#10131c"/>
<rect x="836" y="596" width="1" height="4" fill="#d1d4dc"/>
<rect x="840" y="595" width="1" height="23" fill="#10131c"/>
<rect x="839" y="595" width="3" height="15" fill="#10131c"/>
<rect x="843" y="605" width="1" height="13" fill="#10131c"/>
<rect x="842" y="610" width="3" height="5" fill="#10131c"/>
<rect x="847" y="605" width="1" height="18" fill="#10131c"/>
<rect x="846" y="608" width="3" height="6" fill="#10131c"/>
<rect x="847" y="609" width="1" height="4" fill="#d1d4dc"/>
<rect x="851" y="601" width="1" height="9" fill="#10131c"/>
<rect x="850" y="604" width="3" height="5" fill="#10131c"/>
<rect x="851" y="605" width="1" height="3" fill="#d1d4dc"/>
<rect x="854" y="603" width="1" height="7" fill="#10131c"/>
<rect x="853" y="604" width="3" height="4" fill="#10131c"/>
<rect x="858" y="603" width="1" height="9" fill="#10131c"/>
<rect x="857" y="605" width="3" height="3" fill="#10131c"/>
<rect x="858" y="606" width="1" height="1" fill="#d1d4dc"/>
<rect x="862" y="599" width="1" height="8" fill="#10131c"/>
<rect x="861" y="601" width="3" height="3" fill="#10131c"/>
<rect x="862" y="602" width="1" height="1" fill="#d1d4dc"/>
<rect x="865" y="600" width="1" height="10" fill="#10131c"/>
<rect x="864" y="601" width="3" height="7" fill="#10131c"/>
<rect x="869" y="600" width="1" height="11" fill="#10131c"/>
<rect x="868" y="602" width="3" height="6" fill="#10131c"/>
<rect x="869" y="603" width="1" height="4" fill="#d1d4dc"/>
<rect x="873" y="593" width="1" height="10" fill="#10131c"/>
<rect x="872" y="600" width="3" height="3" fill="#10131c"/>
<rect x="873" y="601" width="1" height="1" fill="#d1d4dc"/>
<rect x="877" y="586" width="1" height="16" fill="#10131c"/>
<rect x="876" y="589" width="3" height="11" fill="#10131c"/>
<rect x="877" y="590" width="1" height="9" fill="#d1d4dc"/>
<rect x="880" y="588" width="1" height="9" fill="#10131c"/>
<rect x="879" y="589" width="3" height="3" fill="#10131c"/>
<rect x="884" y="586" width="1" height="9" fill="#10131c"/>
<rect x="883" y="586" width="3" height="6" fill="#10131c"/>
<rect x="884" y="587" width="1" height="4" fill="#d1d4dc"/>
<rect x="888" y="573" width="1" height="19" fill="#10131c"/>
<rect x="887" y="573" width="3" height="13" fill="#10131c"/>
<rect x="888" y="574" width="1" height="11" fill="#d1d4dc"/>
<rect x="891" y="554" width="1" height="31" fill="#10131c"/>
<rect x="890" y="555" width="3" height="18" fill="#10131c"/>
<rect x="891" y="556" width="1" height="16" fill="#d1d4dc"/>
<rect x="895" y="525" width="1" height="40" fill="#10131c"/>
<rect x="894" y="540" width="3" height="15" fill="#10131c"/>
<rect x="895" y="541" width="1" height="13" fill="#d1d4dc"/>
<rect x="899" y="509" width="1" height="35" fill="#10131c"/>
<rect x="898" y="540" width="3" height="1" fill="#10131c"/>
<rect x="902" y="529" width="1" height="28" fill="#10131c"/>
<rect x="901" y="535" width="3" height="3" fill="#10131c"/>
<rect x="902" y="536" width="1" height="1" fill="#d1d4dc"/>
<rect x="906" y="514" width="1" height="30" fill="#10131c"/>
<rect x="905" y="522" width="3" height="12" fill="#10131c"/>
<rect x="906" y="523" width="1" height="10" fill="#d1d4dc"/>
<rect x="910" y="514" width="1" height="14" fill="#10131c"/>
<rect x="909" y="522" width="3" height="1" fill="#10131c"/>
<rect x="914" y="515" width="1" height="24" fill="#10131c"/>
<rect x="913" y="522" width="3" height="10" fill="#10131c"/>
<rect x="917" y="479" width="1" height="53" fill="#10131c"/>
<rect x="916" y="479" width="3" height="53" fill="#10131c"/>
<rect x="917" y="480" width="1" height="51" fill="#d1d4dc"/>
<rect x="921" y="401" width="1" height="93" fill="#10131c"/>
<rect x="920" y="443" width="3" height="37" fill="#10131c"/>
<rect x="921" y="444" width="1" height="35" fill="#d1d4dc"/>
<rect x="925" y="419" width="1" height="29" fill="#10131c"/>
<rect x="924" y="433" width="3" height="10" fill="#10131c"/>
<rect x="925" y="434" width="1" height="8" fill="#d1d4dc"/>
<rect x="928" y="357" width="1" height="78" fill="#10131c"/>
<rect x="927" y="384" width="3" height="50" fill="#10131c"/>
<rect x="928" y="385" width="1" height="48" fill="#d1d4dc"/>
<rect x="932" y="367" width="1" height="48" fill="#10131c"/>
<rect x="931" y="374" width="3" height="11" fill="#10131c"/>
<rect x="932" y="375" width="1" height="9" fill="#d1d4dc"/>
<rect x="936" y="353" width="1" height="109" fill="#10131c"/>
<rect x="935" y="374" width="3" height="36" fill="#10131c"/>
<rect x="940" y="394" width="1" height="31" fill="#10131c"/>
<rect x="939" y="407" width="3" height="3" fill="#10131c"/>
<rect x="940" y="408" width="1" height="1" fill="#d1d4dc"/>
<rect x="943" y="380" width="1" height="30" fill="#10131c"/>
<rect x="942" y="401" width="3" height="6" fill="#10131c"/>
<rect x="943" y="402" width="1" height="4" fill="#d1d4dc"/>
<rect x="947" y="377" width="1" height="41" fill="#10131c"/>
<rect x="946" y="386" width="3" height="16" fill="#10131c"/>
<rect x="947" y="387" width="1" height="14" fill="#d1d4dc"/>
<rect x="951" y="298" width="1" height="94" fill="#10131c"/>
<rect x="950" y="301" width="3" height="85" fill="#10131c"/>
<rect x="951" y="302" width="1" height="83" fill="#d1d4dc"/>
<rect x="954" y="241" width="1" height="96" fill="#10131c"/>
<rect x="953" y="300" width="3" height="14" fill="#10131c"/>
<rect x="958" y="292" width="1" height="71" fill="#10131c"/>
<rect x="957" y="314" width="3" height="33" fill="#10131c"/>
<rect x="962" y="341" width="1" height="52" fill="#10131c"/>
<rect x="961" y="346" width="3" height="10" fill="#10131c"/>
<rect x="965" y="299" width="1" height="64" fill="#10131c"/>
<rect x="964" y="339" width="3" height="17" fill="#10131c"/>
<rect x="965" y="340" width="1" height="15" fill="#d1d4dc"/>
<rect x="969" y="267" width="1" height="96" fill="#10131c"/>
<rect x="968" y="269" width="3" height="71" fill="#10131c"/>
<rect x="969" y="270" width="1" height="69" fill="#d1d4dc"/>
<rect x="973" y="244" width="1" height="87" fill="#10131c"/>
<rect x="972" y="268" width="3" height="39" fill="#10131c"/>
<rect x="977" y="230" width="1" height="88" fill="#10131c"/>
<rect x="976" y="246" width="3" height="62" fill="#10131c"/>
<rect x="977" y="247" width="1" height="60" fill="#d1d4dc"/>
<rect x="980" y="237" width="1" height="58" fill="#10131c"/>
<rect x="979" y="246" width="3" height="14" fill="#10131c"/>
<rect x="984" y="243" width="1" height="40" fill="#10131c"/>
<rect x="983" y="259" width="3" height="20" fill="#10131c"/>
<rect x="988" y="268" width="1" height="45" fill="#10131c"/>
<rect x="987" y="278" width="3" height="9" fill="#10131c"/>
<rect x="991" y="278" width="1" height="90" fill="#10131c"/>
<rect x="990" y="286" width="3" height="40" fill="#10131c"/>
<rect x="995" y="312" width="1" height="88" fill="#10131c"/>
<rect x="994" y="326" width="3" height="34" fill="#10131c"/>
<rect x="1036" y="314" width="1" height="56" fill="#10131c"/>
<rect x="1035" y="323" width="3" height="44" fill="#10131c"/>
<rect x="1036" y="324" width="1" height="42" fill="#d1d4dc"/>
<rect x="1040" y="320" width="1" height="36" fill="#10131c"/>
<rect x="1039" y="323" width="3" height="26" fill="#10131c"/>
<rect x="999" y="339" width="1" height="69" fill="#10131c"/>
<rect x="998" y="359" width="3" height="12" fill="#10131c"/>
<rect x="1002" y="337" width="1" height="79" fill="#10131c"/>
<rect x="1001" y="342" width="3" height="29" fill="#10131c"/>
<rect x="1002" y="343" width="1" height="27" fill="#d1d4dc"/>
<rect x="1006" y="331" width="1" height="38" fill="#10131c"/>
<rect x="1005" y="342" width="3" height="22" fill="#10131c"/>
<rect x="1010" y="334" width="1" height="52" fill="#10131c"/>
<rect x="1009" y="364" width="3" height="13" fill="#10131c"/>
<rect x="1014" y="356" width="1" height="44" fill="#10131c"/>
<rect x="1013" y="375" width="3" height="1" fill="#10131c"/>
<rect x="1017" y="354" width="1" height="41" fill="#10131c"/>
<rect x="1016" y="365" width="3" height="10" fill="#10131c"/>
<rect x="1017" y="366" width="1" height="8" fill="#d1d4dc"/>
<rect x="1021" y="345" width="1" height="33" fill="#10131c"/>
<rect x="1020" y="365" width="3" height="10" fill="#10131c"/>
<rect x="1025" y="353" width="1" height="29" fill="#10131c"/>
<rect x="1024" y="360" width="3" height="14" fill="#10131c"/>
<rect x="1025" y="361" width="1" height="12" fill="#d1d4dc"/>
<rect x="1028" y="358" width="1" height="27" fill="#10131c"/>
<rect x="1027" y="359" width="3" height="12" fill="#10131c"/>
<rect x="1032" y="355" width="1" height="19" fill="#10131c"/>
<rect x="1031" y="367" width="3" height="4" fill="#10131c"/>
<rect x="1032" y="368" width="1" height="2" fill="#d1d4dc"/>
<rect x="1043" y="343" width="1" height="20" fill="#10131c"/>
<rect x="1042" y="348" width="3" height="9" fill="#10131c"/>
<rect x="1047" y="351" width="1" height="9" fill="#10131c"/>
<rect x="1046" y="352" width="3" height="5" fill="#10131c"/>
<rect x="1047" y="353" width="1" height="3" fill="#d1d4dc"/>
</g>
<circle cx="465.5" cy="598.6" r="7" fill="none" stroke="#0b0d13" stroke-width="1.25"/>
<text class="wv" x="465.5" y="602.2" textLength="4.9" lengthAdjust="spacingAndGlyphs">1</text>
<circle cx="847.5" cy="640.4" r="7" fill="none" stroke="#0b0d13" stroke-width="1.25"/>
<text class="wv" x="847.5" y="644.0" textLength="4.9" lengthAdjust="spacingAndGlyphs">2</text>
<circle cx="954.5" cy="223.4" r="7" fill="none" stroke="#0b0d13" stroke-width="1.25"/>
<text class="wv" x="954.5" y="227.0" textLength="4.9" lengthAdjust="spacingAndGlyphs">3</text>
<circle cx="1002.6" cy="437.5" r="7" fill="none" stroke="#0b0d13" stroke-width="1.25"/>
<text class="wv" x="1002.6" y="441.1" textLength="4.9" lengthAdjust="spacingAndGlyphs">4</text>
<circle cx="1217.4" cy="83.4" r="7" fill="none" stroke="#0b0d13" stroke-width="1.25"/>
<text class="wv" x="1217.4" y="87.0" textLength="4.9" lengthAdjust="spacingAndGlyphs">5</text>
<text x="1199.5" y="65" fill="#ff9800" stroke="#ff9800" stroke-width="0.45" font-size="18" text-anchor="middle" textLength="8" lengthAdjust="spacingAndGlyphs">3</text>
<text x="391.5" y="732.5" fill="#ff9800" stroke="#ff9800" stroke-width="0.45" font-size="17" text-anchor="middle" textLength="8.2" lengthAdjust="spacingAndGlyphs">2</text>
<text class="fib" x="989.1" y="233.4" textLength="56.6" lengthAdjust="spacingAndGlyphs">0(1.11886)</text>
<rect x="1051" y="230" width="15" height="1" fill="#131722"/>
<text class="fib" x="979.3" y="429.0" textLength="67.0" lengthAdjust="spacingAndGlyphs">0.5(0.84332)</text>
<rect x="1051" y="425" width="15" height="1" fill="#131722"/>
<text class="fib" x="989.6" y="624.7" textLength="56.6" lengthAdjust="spacingAndGlyphs">1(0.56778)</text>
<rect x="1051" y="621" width="15" height="1" fill="#131722"/>
<rect x="1491" y="344" width="60.5" height="17" rx="2" fill="#fff"/>
<text x="1496.8" y="356.9" fill="#131722" font-size="12" textLength="47.3" lengthAdjust="spacingAndGlyphs">XRPUSDT</text>
<rect x="1553" y="344" width="62" height="31" rx="2" fill="#fff"/>
<rect x="1553" y="352" width="4" height="1" fill="#131722"/>
<text x="1562" y="356.9" fill="#131722" font-size="12.2" textLength="41.8" lengthAdjust="spacingAndGlyphs">0.94732</text>
<text x="1562" y="371" fill="#131722" font-size="12.2" textLength="46.2" lengthAdjust="spacingAndGlyphs">01:56:18</text>
<g>
<path d="M9.7 808 h18 a4.3 4.3 0 0 0 0.9 -8.6 a4.6 4.6 0 0 0 -6 -2.3 a6 6 0 0 0 -11.6 1.6 a4.7 4.7 0 0 0 -1.3 9.3 z" fill="#2196f3"/>
<polyline points="7,805 15.9,798.7 21.8,804.5 28.2,798" fill="none" stroke="#fff" stroke-width="1.3"/>
<circle cx="15.9" cy="798.7" r="2" fill="#fff"/><circle cx="21.8" cy="804.5" r="2" fill="#fff"/>
</g>
<text x="34.3" y="805" fill="#131722" font-size="13" textLength="70.4" lengthAdjust="spacingAndGlyphs">TradingView</text>
</svg></body></html>
